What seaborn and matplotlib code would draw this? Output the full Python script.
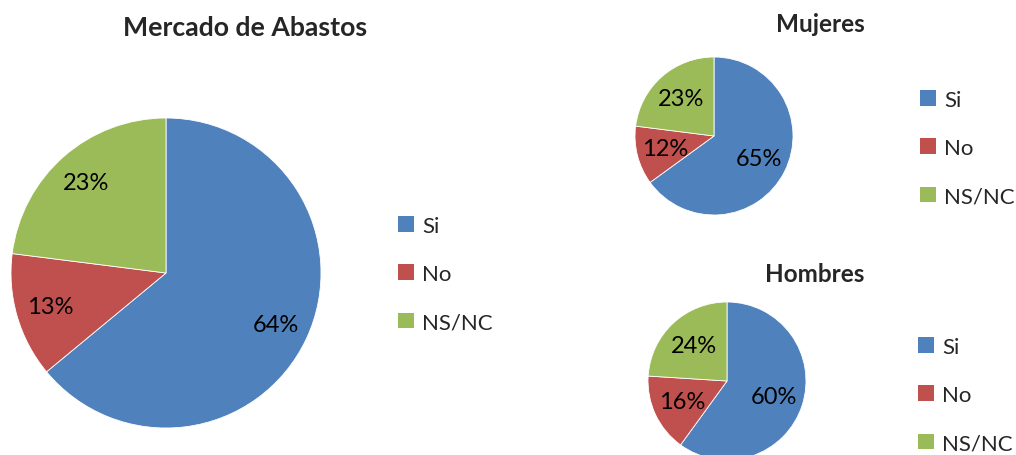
import seaborn as sns
import matplotlib.pyplot as plt
from matplotlib.patches import Patch

# Data
categorias = ['Si', 'No', 'NS/NC']
total = [64, 13, 23]
mujeres = [65, 12, 23]
hombres = [60, 16, 24]
titulos = ['Mercado de Abastos', 'Mujeres', 'Hombres']
colores = ['#4F81BD', '#C0504D', '#9BBB59']

sns.set_theme(style='white')
plt.rcParams['font.family'] = ['Lato', 'DejaVu Sans']

W, H = 1016, 456
fig = plt.figure(figsize=(W / 100, H / 100), dpi=100)


def px_axes(cx, cy, r):
    # axes box from pixel centre / radius
    return fig.add_axes([(cx - r) / W, (H - cy - r) / H, 2 * r / W, 2 * r / H])


def pie(ax, vals, pctd, fs):
    wedges, _, texts = ax.pie(vals, colors=colores, startangle=90, counterclock=False,
                              autopct=lambda p: f'{p:.0f}%', pctdistance=pctd,
                              wedgeprops={'linewidth': 0.6, 'edgecolor': 'white'},
                              textprops={'fontsize': fs, 'color': 'black'})
    ax.set_xlim(-1, 1)
    ax.set_ylim(-1, 1)
    ax.set_aspect('equal')
    ax.axis('off')
    return wedges


def leyenda(x, y, fs, spacing):
    handles = [Patch(facecolor=c, edgecolor='none') for c in colores]
    fig.legend(handles, categorias, loc='center left', bbox_to_anchor=(x / W, 1 - y / H),
               frameon=False, fontsize=fs, handlelength=0.7, handleheight=0.7,
               handletextpad=0.4, labelspacing=spacing, borderpad=0, borderaxespad=0)


# Main pie
ax1 = px_axes(166, 274, 155)
pie(ax1, total, 0.78, 17)
leyenda(398, 275, 16, 1.28)
fig.text(245 / W, 1 - 28 / H, titulos[0], ha='center', va='center',
         fontsize=19.2, fontweight='bold')

# Mujeres
ax2 = px_axes(714, 137, 79)
pie(ax2, mujeres, 0.64, 17)
leyenda(920, 149, 16, 1.28)
fig.text(820 / W, 1 - 25 / H, titulos[1], ha='center', va='center',
         fontsize=17.5, fontweight='bold')

# Hombres
ax3 = px_axes(727, 382, 79)
pie(ax3, hombres, 0.62, 17)
leyenda(918, 396, 16, 1.28)
fig.text(815 / W, 1 - 275 / H, titulos[2], ha='center', va='center',
         fontsize=17.5, fontweight='bold')

fig.savefig('out.png', dpi=100, facecolor='white')
